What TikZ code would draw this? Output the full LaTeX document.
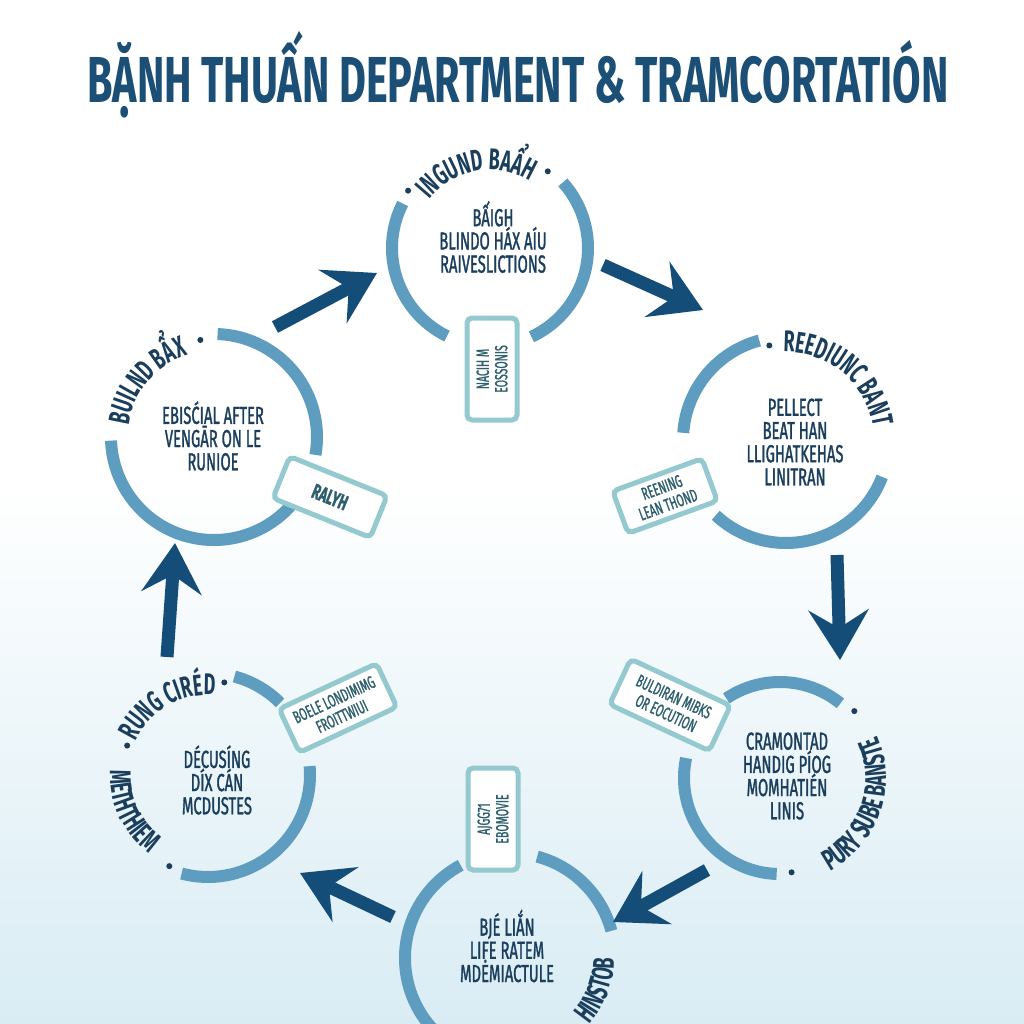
\documentclass[tikz,border=0pt]{standalone}
\usepackage{fontspec}
\setmainfont{Fira Sans}
\newfontfamily\condfont[FakeStretch=0.6]{Fira Sans}
\newfontfamily\bodyfont[FakeStretch=0.6, FakeBold=1.2]{Fira Sans}
\newfontfamily\titlefont[FakeStretch=0.635]{Fira Sans}
\usetikzlibrary{arrows.meta,decorations.text,positioning,calc}

\definecolor{titleblue}{HTML}{1B4F75}
\definecolor{navy}{HTML}{1A3E5C}
\definecolor{ringblue}{HTML}{5E9DC0}
\definecolor{boxline}{HTML}{93C9CF}
\definecolor{boxtext}{HTML}{2E5F6E}
\definecolor{arrowblue}{HTML}{134D78}
\definecolor{bgblue}{HTML}{D9ECF4}

\newcommand\ringfont{\condfont\bfseries\fontsize{17}{17}\selectfont}

\begin{document}
\begin{tikzpicture}[
  x=0.2mm, y=-0.2mm,
  ring/.style={draw=ringblue, line width=2.4mm},
  bodytext/.style={align=center, text=navy, inner sep=0pt,
    font=\bodyfont\fontsize{14}{13.2}\selectfont},
  tagbox/.style={draw=boxline, line width=1mm, fill=white, rounded corners=1mm,
    text=boxtext, align=center, inner sep=1mm,
    font=\bodyfont\fontsize{10}{10.5}\selectfont},
  flow/.style={draw=arrowblue, line width=2.6mm,
    -{Stealth[length=10mm, width=12mm, inset=3.6mm]}},
  dot/.style={circle, fill=navy, inner sep=0pt, minimum size=1.2mm}
]

\useasboundingbox (0,0) rectangle (1024,1024);
\fill[white] (0,0) rectangle (1024,1024);
\shade[top color=white, bottom color=bgblue] (0,480) rectangle (1024,1024);

\node[text=titleblue, font=\titlefont\bfseries\fontsize{37}{40}\selectfont] (title) at (518,75)
  {BẶNH THUẤN DEPARTMENT \& TRAMCORTATIÓN};

% ring centres
\coordinate (c1) at (490,248);
\coordinate (c2) at (214,437);
\coordinate (c3) at (786,440);
\coordinate (c4) at (780,778);
\coordinate (c5) at (510,958);
\coordinate (c6) at (208,775);

% rings
\draw[ring] (c1) ++(116:98) arc[start angle=116, end angle=207, radius=98];
\draw[ring] (c1) ++(-42:98) arc[start angle=-42, end angle=65, radius=98];
\draw[ring] (c2) ++(272:103) arc[start angle=272, end angle=370, radius=103];
\draw[ring] (c2) ++(30:103) arc[start angle=30, end angle=178, radius=103];
\draw[ring] (c3) ++(184:103) arc[start angle=184, end angle=255, radius=103];
\draw[ring] (c3) ++(21:103) arc[start angle=21, end angle=133, radius=103];
\draw[ring] (c4) ++(236:96) arc[start angle=236, end angle=309, radius=96];
\draw[ring] (c4) ++(92:96) arc[start angle=92, end angle=192, radius=96];
\draw[ring] (c5) ++(100:105) arc[start angle=100, end angle=242, radius=105];
\draw[ring] (c5) ++(285:105) arc[start angle=285, end angle=345, radius=105];
\draw[ring] (c6) ++(285:102) arc[start angle=285, end angle=315, radius=102];
\draw[ring] (c6) ++(-5:102) arc[start angle=-5, end angle=105, radius=102];

% curved labels
\path[decorate, decoration={text along path, text align=center, text color=navy,
  text={|\ringfont|INGUND BAẨH}}] (c1) ++(190:78) arc[start angle=190, end angle=330, radius=78];
\path[decorate, decoration={text along path, text align=center, text color=navy,
  text={|\ringfont|BUILND BẨX}}] (c2) ++(150:86) arc[start angle=150, end angle=290, radius=86];
\path[decorate, decoration={text along path, text align=center, text color=navy,
  text={|\ringfont|REEDIUNC BANT}}] (c3) ++(240:88) arc[start angle=240, end angle=380, radius=88];
\path[decorate, decoration={text along path, text align=center, text color=navy,
  text={|\ringfont|PURY SUBE BANSTE}}] (c4) ++(100:106) arc[start angle=100, end angle=-62, radius=106];
\path[decorate, decoration={text along path, text align=center, text color=navy,
  text={|\ringfont|HINSTOB}}] (c5) ++(70:104) arc[start angle=70, end angle=-30, radius=104];
\path[decorate, decoration={text along path, text align=center, text color=navy,
  text={|\ringfont|RUNG CIRÉD}}] (c6) ++(170:80) arc[start angle=170, end angle=310, radius=80];
\path[decorate, decoration={text along path, text align=center, text color=navy,
  text={|\ringfont|METHTHIEM}}] (c6) ++(215:98) arc[start angle=215, end angle=95, radius=98];

\node[dot] (d1) at ($(c1)+(215:100)$) {};
\node[dot] (d2) at ($(c1)+(307:96)$) {};
\node[dot] (d3) at ($(c2)+(262:98)$) {};
\node[dot] (d4) at ($(c3)+(260:96)$) {};
\node[dot] (d5) at ($(c4)+(83:95)$) {};
\node[dot] (d6) at ($(c4)+(-42:100)$) {};
\node[dot] (d7) at ($(c6)+(200:86)$) {};
\node[dot] (d8) at ($(c6)+(280:94)$) {};
\node[dot] (d9) at ($(c6)+(113:99)$) {};

% ring texts
\node[bodytext] (t1) at (493,237) {BẤIGH\\BLINDO HÁX AÍU\\RAIVESLICTIONS};
\node[bodytext] (t2) at (213,436) {EBISĆIAL AFTER\\VENGĀR ON LE\\RUNIOE};
\node[bodytext] (t3) at (795,442) {PELLECT\\BEAT HAN\\LLIGHATKEHAS\\LINITRAN};
\node[bodytext] (t4) at (787,776) {CRAMONTAD\\HANDIG PÍOG\\MOMHATIÉN\\LINIS};
\node[bodytext] (t5) at (507,946) {BJÉ LIẮN\\LIFE RATEM\\MDĖMIACTULE};
\node[bodytext] (t6) at (217,780) {DÉCUSÍNG\\DÍX CÁN\\MCDUSTES};

% tags
\node[tagbox, rotate=90, minimum width=20.4mm, minimum height=10mm] (b1) at (492,369) {NACIH M\\EOSSONIS};
\node[tagbox, rotate=-22, minimum width=21mm, minimum height=9mm,
  font=\bodyfont\bfseries\fontsize{12}{12}\selectfont] (b2) at (330,497) {RALYH};
\node[tagbox, rotate=20, minimum width=19mm, minimum height=9mm] (b3) at (665,496) {REENING\\LEAN THOND};
\node[tagbox, rotate=-25, minimum width=22mm, minimum height=10mm] (b4) at (670,705) {BULDIRAN MIBKS\\OR EOCUTION};
\node[tagbox, rotate=25, minimum width=21.5mm, minimum height=9.6mm] (b5) at (338,708) {BOELE LONDIMIMG\\FROITTWIUI};
\node[tagbox, rotate=90, minimum width=20.4mm, minimum height=10mm] (b6) at (493,819) {AJGG71\\EBOMOVIE};

% arrows
\coordinate (a1s) at (275,327); \coordinate (a1e) at (377,273);
\coordinate (a2s) at (603,265); \coordinate (a2e) at (703,310);
\coordinate (a3s) at (837,555); \coordinate (a3e) at (840,660);
\coordinate (a4s) at (707,870); \coordinate (a4e) at (613,922);
\coordinate (a5s) at (393,917); \coordinate (a5e) at (300,873);
\coordinate (a6s) at (167,657); \coordinate (a6e) at (175,543);
\draw[flow] (a1s) -- (a1e);
\draw[flow] (a2s) -- (a2e);
\draw[flow] (a3s) -- (a3e);
\draw[flow] (a4s) -- (a4e);
\draw[flow] (a5s) -- (a5e);
\draw[flow] (a6s) -- (a6e);

\end{tikzpicture}
\end{document}
